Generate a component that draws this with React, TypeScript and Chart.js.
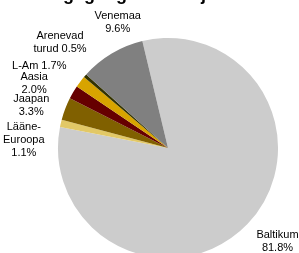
import React, { useEffect, useRef } from "react";
import { Chart, registerables } from "chart.js";

Chart.register(...registerables);

const titleText = "Müügi geograafiline jaotus";
const categories = ["Baltikum", "Lääne-Euroopa", "Jaapan", "Aasia", "L-Am", "Arenevad turud", "Venemaa"];
const values = [81.8, 1.1, 3.3, 2.0, 1.7, 0.5, 9.6];
const labelNames = [["Baltikum"], ["Lääne-", "Euroopa"], ["Jaapan"], ["Aasia"], ["L-Am"], ["Arenevad", "turud"], ["Venemaa"]];
const pctInline = [false, false, false, false, true, true, false];

const colors = ["#CCCCCC", "#E2C866", "#806000", "#660000", "#D8A400", "#333300", "#808080"];
// label nudges relative to slice mid-angle point on the rim
const labelOffsets = [[30, 17], [-37, 17], [-34, -3], [-39, -9], [-41, -16], [-25, -33], [6, -31.5]];

const labelPlugin = {
  id: "sliceLabels",
  afterDatasetsDraw(chart: any) {
    const ctx = chart.ctx;
    const meta = chart.getDatasetMeta(0);
    ctx.save();
    ctx.fillStyle = "#000";
    ctx.font = "11px 'Liberation Sans', Arial, sans-serif";
    ctx.textAlign = "center";
    ctx.textBaseline = "middle";
    meta.data.forEach((arc: any, i: number) => {
      const { x, y, startAngle, endAngle, outerRadius } = arc.getProps(["x", "y", "startAngle", "endAngle", "outerRadius"], true);
      const mid = (startAngle + endAngle) / 2;
      const px = x + Math.cos(mid) * outerRadius + labelOffsets[i][0];
      const py = y + Math.sin(mid) * outerRadius + labelOffsets[i][1];
      const pct = values[i].toFixed(1) + "%";
      const lines = [...labelNames[i]];
      if (pctInline[i]) lines[lines.length - 1] = lines[lines.length - 1] + " " + pct;
      else lines.push(pct);
      const lh = 13;
      const top = py - ((lines.length - 1) * lh) / 2;
      lines.forEach((l, k) => ctx.fillText(l, px, top + k * lh));
    });
    // title (clipped at top of the page)
    ctx.font = "bold 18px 'Liberation Sans', Arial, sans-serif";
    ctx.textBaseline = "alphabetic";
    ctx.fillText(titleText, 140, 0);
    ctx.restore();
  },
};

export default function App() {
  const ref = useRef<HTMLCanvasElement>(null);
  useEffect(() => {
    if (!ref.current) return;
    const chart = new Chart(ref.current, {
      type: "pie",
      data: {
        labels: categories,
        datasets: [
          {
            data: values,
            backgroundColor: colors,
            borderWidth: 0,
            hoverOffset: 0,
          },
        ],
      },
      options: {
        animation: false,
        responsive: true,
        maintainAspectRatio: false,
        rotation: -13.5,
        layout: { padding: { left: 58, right: 21, top: 38, bottom: 12 } },
        plugins: { legend: { display: false }, tooltip: { enabled: false }, title: { display: false } },
      },
      plugins: [labelPlugin],
    });
    return () => chart.destroy();
  }, []);
  return (
    <div style={{ position: "fixed", left: 0, top: 0, width: 299, height: 270, background: "#fff" }}>
      <canvas ref={ref} />
    </div>
  );
}
